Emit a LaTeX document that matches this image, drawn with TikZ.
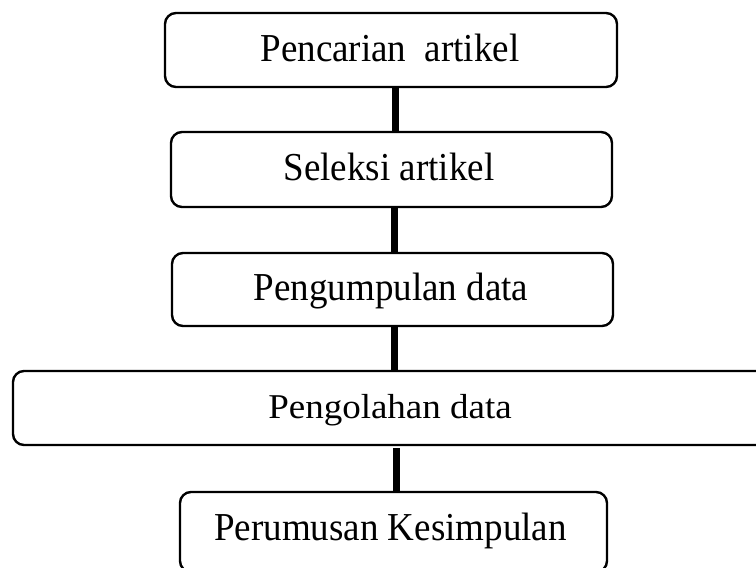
\documentclass[tikz,border=0pt]{standalone}
\usepackage{fontspec}
\setmainfont{Liberation Serif}
\begin{document}
\begin{tikzpicture}[x=1pt,y=1pt,
  stepbox/.style={draw=black, line width=2.4pt, rounded corners=11pt, fill=white,
    inner sep=0pt},
  steptext/.style={anchor=base, inner sep=0pt, font=\fontsize{37}{40}\selectfont},
  conn/.style={line width=7pt, black}]
\useasboundingbox (0,0) rectangle (756,-568);
\clip (0,0) rectangle (756,-568);
\node[stepbox, minimum width=452, minimum height=74] (a) at (391,-50) {};
\node[steptext] (at) at (390,-61.5) {\scalebox{1}[1.07]{Pencarian\ \ artikel}};
\node[stepbox, minimum width=441, minimum height=75] (b) at (391.5,-169.5) {};
\node[steptext] (bt) at (389,-180) {\scalebox{1}[1.07]{Seleksi artikel}};
\node[stepbox, minimum width=441, minimum height=73] (c) at (392.5,-289.5) {};
\node[steptext] (ct) at (391,-300) {\scalebox{1}[1.07]{Pengumpulan data}};
\node[stepbox, minimum width=757, minimum height=74] (d) at (391.5,-408) {};
\node[steptext] (dt) at (390,-418) {\scalebox{1}[0.94]{Pengolahan data}};
\node[stepbox, minimum width=427, minimum height=80] (e) at (393.5,-532) {};
\node[steptext] (et) at (390.5,-540) {\scalebox{1}[1.07]{Perumusan Kesimpulan}};
\coordinate (x1) at (395,0);
\coordinate (x2) at (394,0);
\coordinate (x3) at (394,0);
\coordinate (x4) at (396,0);
\draw[conn] (x1 |- a.south) -- (x1 |- b.north);
\draw[conn] (x2 |- b.south) -- (x2 |- c.north);
\draw[conn] (x3 |- c.south) -- (x3 |- d.north);
\draw[conn] ([yshift=-2]x4 |- d.south) -- (x4 |- e.north);
\end{tikzpicture}
\end{document}
